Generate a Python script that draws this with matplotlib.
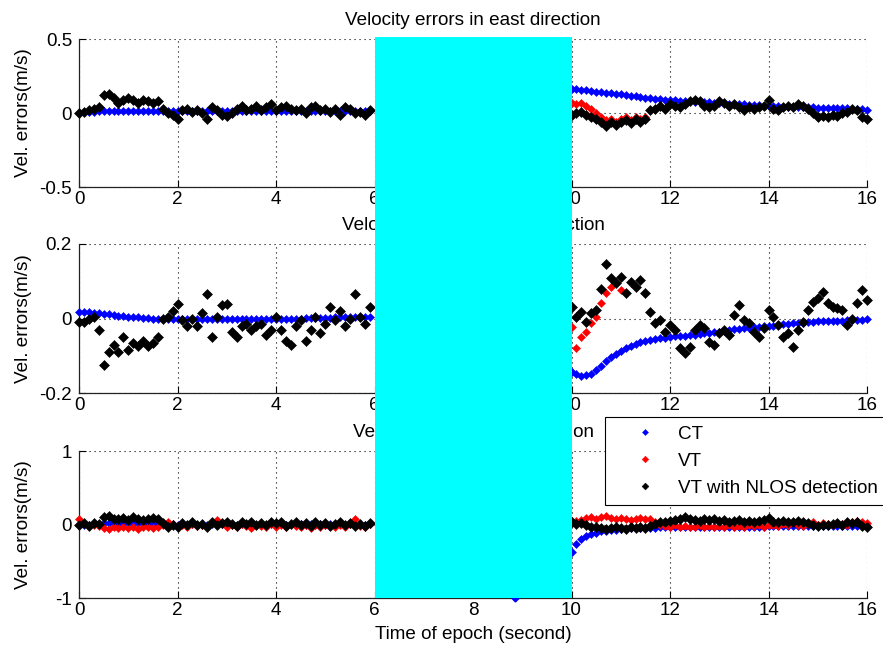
import numpy as np
import matplotlib
matplotlib.use("Agg")
import matplotlib.pyplot as plt
from matplotlib.patches import Rectangle
from matplotlib.transforms import blended_transform_factory

plt.rcParams["font.family"] = ["Liberation Sans", "DejaVu Sans"]
plt.rcParams["font.size"] = 13.6
plt.rcParams["axes.unicode_minus"] = False

# ============================================
# DATA (0.1 s steps)
# ============================================

t_left = np.round(np.arange(0.0, 6.0, 0.1), 1)      # 0.0 .. 5.9
t_right = np.round(np.arange(10.0, 16.05, 0.1), 1)  # 10.0 .. 16.0

# --- east ---
ct_e_left = [0.000, 0.004, 0.007, 0.009, 0.011, 0.013,
             0.014, 0.015, 0.015, 0.016, 0.016, 0.016,
             0.016, 0.016, 0.016, 0.016, 0.016, 0.016,
             0.016, 0.016, 0.016, 0.016, 0.016, 0.016,
             0.017, 0.017, 0.017, 0.017, 0.017, 0.017,
             0.017, 0.017, 0.017, 0.017, 0.017, 0.017,
             0.017, 0.017, 0.017, 0.017, 0.017, 0.017,
             0.017, 0.017, 0.017, 0.017, 0.017, 0.017,
             0.017, 0.017, 0.017, 0.017, 0.017, 0.017,
             0.017, 0.017, 0.017, 0.017, 0.017, 0.017]
nlos_e_left = [0.00, 0.01, 0.02, 0.03, 0.04, 0.12,
               0.13, 0.10, 0.07, 0.09, 0.10, 0.09,
               0.07, 0.09, 0.08, 0.07, 0.08, 0.03,
               0.00, -0.01, -0.04, 0.02, 0.03, 0.01,
               0.02, 0.00, -0.04, 0.04, 0.02, -0.01,
               -0.02, 0.00, 0.03, 0.05, 0.02, 0.03,
               0.05, 0.02, 0.04, 0.06, 0.02, 0.04,
               0.05, 0.03, 0.02, 0.03, 0.00, 0.04,
               0.05, 0.02, 0.03, 0.01, 0.03, -0.01,
               0.04, 0.03, 0.00, 0.01, -0.01, 0.02]
vt_e_left = list(nlos_e_left)  # VT sits under the NLOS points here
ct_e_right = [0.165, 0.161, 0.157, 0.153, 0.149, 0.145, 0.141, 0.137, 0.134, 0.130,
              0.126, 0.122, 0.117, 0.112, 0.108, 0.104, 0.100, 0.097, 0.094, 0.091,
              0.088, 0.086, 0.084, 0.082, 0.080, 0.078, 0.076, 0.074, 0.072, 0.070,
              0.068, 0.066, 0.064, 0.062, 0.060, 0.058, 0.056, 0.054, 0.052, 0.050,
              0.049, 0.046, 0.045, 0.044, 0.043, 0.042, 0.041, 0.040, 0.039, 0.038,
              0.037, 0.036, 0.035, 0.034, 0.033, 0.032, 0.031, 0.030, 0.028, 0.025,
              0.020]
nlos_e_right = [-0.01, 0.00, 0.01, -0.01, -0.03, -0.04, -0.06, -0.09, -0.06, -0.08,
                -0.06, -0.05, -0.07, -0.04, -0.06, -0.04, 0.02, 0.03, 0.05, 0.03,
                0.06, 0.05, 0.04, 0.06, 0.08, 0.09, 0.08, 0.05, 0.04, 0.05,
                0.08, 0.07, 0.05, 0.06, 0.04, 0.02, 0.04, 0.03, 0.04, 0.05,
                0.09, 0.03, 0.02, 0.04, 0.05, 0.04, 0.06, 0.05, 0.03, 0.00,
                -0.03, -0.02, -0.03, -0.01, -0.02, 0.00, 0.01, 0.03, 0.02, -0.03,
                -0.04]
vt_e_right = [0.07, 0.06, 0.07, 0.05, 0.03, 0.00, -0.03, -0.05, -0.04, -0.06,
              -0.04, -0.03, -0.05, -0.03, -0.04, -0.03, 0.02, 0.03, 0.05, 0.03,
              0.06, 0.05, 0.04, 0.06, 0.08, 0.09, 0.08, 0.05, 0.04, 0.05,
              0.08, 0.07, 0.05, 0.06, 0.04, 0.02, 0.04, 0.03, 0.04, 0.05,
              0.09, 0.03, 0.02, 0.04, 0.05, 0.04, 0.06, 0.05, 0.03, 0.00,
              -0.03, -0.02, -0.03, -0.01, -0.02, 0.00, 0.01, 0.03, 0.02, -0.03,
              -0.04]

# --- north ---
ct_n_left = [0.018, 0.018, 0.017, 0.016, 0.015, 0.013,
             0.011, 0.009, 0.007, 0.006, 0.005, 0.004,
             0.003, 0.002, 0.001, 0.000, -0.001, -0.002,
             -0.002, -0.002, -0.002, -0.002, -0.002, -0.002,
             -0.002, -0.002, -0.002, -0.002, -0.002, -0.002,
             -0.002, -0.002, -0.002, -0.002, -0.002, -0.002,
             -0.002, -0.002, -0.002, -0.002, -0.001, -0.001,
             -0.001, 0.000, 0.000, 0.000, 0.001, 0.001,
             0.001, 0.002, 0.002, 0.002, 0.003, 0.003,
             0.003, 0.004, 0.004, 0.004, 0.005, 0.005]
nlos_n_left = [-0.010, -0.010, 0.000, 0.005, -0.030, -0.125,
               -0.090, -0.070, -0.090, -0.050, -0.085, -0.065,
               -0.075, -0.060, -0.075, -0.065, -0.050, 0.000,
               0.005, 0.020, 0.040, -0.005, -0.020, 0.000,
               -0.020, 0.015, 0.065, -0.050, 0.005, 0.035,
               0.040, -0.035, -0.050, -0.020, -0.015, -0.030,
               -0.020, -0.015, -0.045, -0.030, 0.005, -0.030,
               -0.060, -0.070, -0.020, -0.005, -0.060, -0.030,
               0.005, -0.040, -0.015, 0.030, -0.005, 0.020,
               -0.020, 0.000, 0.065, 0.005, -0.015, 0.030]
vt_n_left = list(nlos_n_left)
ct_n_right = [-0.143, -0.150, -0.155, -0.153, -0.148, -0.138, -0.127, -0.115, -0.104, -0.094,
              -0.086, -0.079, -0.073, -0.068, -0.064, -0.061, -0.058, -0.055, -0.053, -0.051,
              -0.049, -0.048, -0.047, -0.046, -0.045, -0.044, -0.042, -0.040, -0.038, -0.037,
              -0.035, -0.033, -0.031, -0.029, -0.028, -0.026, -0.025, -0.024, -0.022, -0.021,
              -0.020, -0.019, -0.017, -0.016, -0.014, -0.013, -0.012, -0.011, -0.010, -0.009,
              -0.008, -0.008, -0.007, -0.007, -0.006, -0.006, -0.005, -0.004, -0.003, -0.003,
              -0.002]
nlos_n_right = [0.032, 0.005, 0.018, -0.009, 0.014, 0.023, 0.080, 0.145, 0.110, 0.094,
                0.112, 0.068, 0.099, 0.085, 0.103, 0.068, 0.018, -0.013, -0.004, -0.035,
                -0.017, -0.031, -0.080, -0.093, -0.076, -0.031, -0.017, -0.026, -0.062, -0.071,
                -0.040, -0.031, -0.044, 0.009, 0.036, -0.004, -0.013, -0.035, -0.049, -0.026,
                0.023, 0.005, -0.017, -0.049, -0.040, -0.076, -0.031, -0.009, 0.023, 0.045,
                0.054, 0.072, 0.041, 0.032, 0.027, 0.023, -0.017, 0.000, 0.041, 0.077,
                0.050]
vt_n_right = [-0.022, -0.080, -0.049, -0.035, -0.013, 0.005, 0.041, 0.068, 0.085, 0.099,
              0.076, 0.068, 0.099, 0.085, 0.103, 0.068, 0.018, -0.013, -0.004, -0.035,
              -0.017, -0.031, -0.080, -0.093, -0.076, -0.031, -0.017, -0.026, -0.062, -0.071,
              -0.040, -0.031, -0.044, 0.009, 0.036, -0.004, -0.013, -0.035, -0.049, -0.026,
              0.023, 0.005, -0.017, -0.049, -0.040, -0.076, -0.031, -0.009, 0.023, 0.045,
              0.054, 0.072, 0.041, 0.032, 0.027, 0.023, -0.017, 0.000, 0.041, 0.077,
              0.050]

# --- up ---
ct_u_left = [0.00, 0.00, 0.00, 0.01, 0.01, 0.02,
             0.02, 0.02, 0.02, 0.02, 0.02, 0.02,
             0.02, 0.02, 0.02, 0.02, 0.01, 0.01,
             0.00, 0.01, 0.00, 0.01, 0.00, 0.01,
             0.00, 0.01, 0.00, 0.01, 0.00, 0.01,
             0.00, 0.01, 0.00, 0.01, 0.00, 0.01,
             0.00, 0.01, 0.00, 0.01, 0.00, 0.01,
             0.00, 0.01, 0.00, 0.01, 0.00, 0.01,
             0.00, 0.01, 0.00, 0.01, 0.00, 0.01,
             0.00, 0.01, 0.00, 0.01, 0.00, 0.01]
nlos_u_left = [0.00, 0.02, -0.02, 0.02, 0.01, 0.10,
               0.12, 0.08, 0.07, 0.09, 0.06, 0.10,
               0.08, 0.06, 0.08, 0.09, 0.07, 0.02,
               -0.03, 0.00, -0.04, 0.02, 0.00, 0.03,
               -0.01, 0.01, -0.04, 0.03, 0.00, 0.02,
               0.04, 0.01, -0.02, 0.03, 0.01, 0.04,
               0.00, 0.02, -0.01, 0.04, 0.02, 0.03,
               -0.02, 0.01, 0.03, 0.00, 0.02, -0.02,
               0.03, 0.00, 0.02, -0.02, 0.01, 0.03,
               -0.01, 0.02, -0.02, 0.01, -0.02, 0.02]
vt_u_left = [0.07, 0.02, -0.02, 0.00, -0.02, -0.05,
             -0.06, -0.04, -0.05, -0.03, -0.05, -0.04,
             -0.06, -0.04, -0.03, -0.05, -0.04, 0.00,
             0.04, 0.01, -0.02, 0.00, -0.03, 0.01,
             -0.02, 0.00, -0.03, 0.02, 0.06, 0.01,
             -0.03, 0.00, -0.04, 0.01, -0.02, -0.05,
             0.00, -0.02, -0.04, 0.01, -0.03, 0.00,
             -0.04, 0.01, -0.02, -0.03, 0.00, -0.05,
             -0.01, -0.03, 0.00, -0.02, -0.04, 0.00,
             -0.03, 0.01, 0.07, -0.02, -0.04, 0.01]
ct_u_right = [-0.38, -0.27, -0.20, -0.16, -0.13, -0.11, -0.095, -0.085, -0.075, -0.068,
              -0.062, -0.058, -0.054, -0.051, -0.048, -0.046, -0.044, -0.042, -0.040, -0.039,
              -0.038, -0.037, -0.036, -0.036, -0.035, -0.035, -0.034, -0.034, -0.033, -0.033,
              -0.032, -0.032, -0.031, -0.031, -0.030, -0.030, -0.029, -0.029, -0.028, -0.028,
              -0.027, -0.027, -0.026, -0.026, -0.025, -0.025, -0.024, -0.024, -0.023, -0.023,
              -0.022, -0.022, -0.021, -0.021, -0.020, -0.020, -0.019, -0.019, -0.018, -0.018,
              -0.017]
nlos_u_right = [0.03, 0.01, 0.02, -0.01, -0.03, -0.04, -0.05, -0.06, -0.05, -0.04,
                -0.05, -0.06, -0.04, -0.05, -0.04, -0.05, -0.02, 0.01, 0.03, 0.04,
                0.05, 0.06, 0.08, 0.10, 0.08, 0.06, 0.05, 0.07, 0.06, 0.08,
                0.05, 0.06, 0.03, 0.05, 0.06, 0.04, 0.05, 0.03, 0.05, 0.06,
                0.09, 0.04, 0.03, 0.05, 0.04, 0.03, 0.05, 0.04, 0.02, 0.00,
                -0.02, 0.00, -0.01, 0.01, 0.02, 0.00, 0.03, 0.02, 0.03, -0.02,
                -0.04]
vt_u_right = [0.02, 0.05, 0.06, 0.09, 0.10, 0.08, 0.10, 0.12, 0.09, 0.07,
              0.09, 0.07, 0.06, 0.08, 0.09, 0.07, 0.08, 0.04, 0.00, -0.02,
              -0.03, -0.01, -0.04, -0.02, -0.03, -0.04, -0.01, -0.03, -0.02, -0.04,
              -0.02, -0.03, -0.01, -0.03, -0.02, -0.04, -0.01, -0.02, 0.00, -0.03,
              -0.01, 0.00, -0.02, 0.01, -0.01, 0.02, 0.00, -0.02, 0.01, 0.03,
              0.00, 0.02, 0.01, 0.00, 0.02, 0.01, 0.00, 0.03, 0.05, 0.04,
              0.02]
# lone CT sample poking out under the masked span
ct_u_gap_t = [8.85]
ct_u_gap = [-1.0]

titles = ["Velocity errors in east direction",
          "Velocity errors in north direction",
          "Velocity errors in up direction"]
y_limits = [(-0.5, 0.5), (-0.2, 0.2), (-1, 1)]
y_ticks = [[-0.5, 0, 0.5], [-0.2, 0, 0.2], [-1, 0, 1]]
x_ticks = list(range(0, 17, 2))
series_names = ["CT", "VT", "VT with NLOS detection"]
series_colors = ["blue", "red", "black"]
marker_sizes = [4.0, 4.4, 4.6]

# ============================================
# FIGURE
# ============================================

fig = plt.figure(figsize=(8.83, 6.51), dpi=100)
positions = [[0.0895, 0.7127, 0.8924, 0.2273],
             [0.0895, 0.3963, 0.8924, 0.2289],
             [0.0895, 0.0814, 0.8924, 0.2258]]

panels = [
    (ct_e_left, ct_e_right, vt_e_left, vt_e_right, nlos_e_left, nlos_e_right),
    (ct_n_left, ct_n_right, vt_n_left, vt_n_right, nlos_n_left, nlos_n_right),
    (ct_u_left, ct_u_right, vt_u_left, vt_u_right, nlos_u_left, nlos_u_right),
]

axes = []
for i, pos in enumerate(positions):
    ax = fig.add_axes(pos)
    data = panels[i]
    for k in range(3):
        left_vals, right_vals = data[2 * k], data[2 * k + 1]
        style = dict(ls="none", marker="D", ms=marker_sizes[k], color=series_colors[k],
                     mec=series_colors[k], mew=0.4, clip_on=False, zorder=3 + k)
        ax.plot(t_left, left_vals, label=series_names[k], **style)
        ax.plot(t_right, right_vals, label="_nolegend_", **style)
    if i == 2:
        ax.plot(ct_u_gap_t, ct_u_gap, ls="none", marker="D", ms=3.5,
                color="blue", clip_on=False, zorder=3)

    ax.set_xlim(0, 16)
    ax.set_ylim(*y_limits[i])
    ax.set_xticks(x_ticks)
    ax.set_xticklabels([f"{v:g}" for v in x_ticks])
    ax.set_yticks(y_ticks[i])
    ax.set_yticklabels([f"{v:g}" for v in y_ticks[i]])
    ax.set_axisbelow(True)
    ax.grid(True, color="black", linestyle=(0, (1, 3.5)), linewidth=0.8)
    ax.spines["top"].set_visible(False)
    ax.spines["right"].set_visible(False)
    for side in ["left", "bottom"]:
        ax.spines[side].set_linewidth(0.9)
        ax.spines[side].set_color("#222222")
    ax.tick_params(direction="in", length=5, width=0.8, top=False, right=False)
    ax.tick_params(axis="x", pad=3)
    ax.tick_params(axis="y", pad=5)
    ax.set_title(titles[i], pad=10, fontsize=13.6)
    ax.set_ylabel("Vel. errors(m/s)")
    ax.yaxis.set_label_coords(-0.06, 0.5)
    axes.append(ax)

axes[2].set_xlabel("Time of epoch (second)", labelpad=5)

leg = axes[2].legend(loc="upper left", bbox_to_anchor=(605 / 883, 1 - 417 / 651),
                     bbox_transform=fig.transFigure, borderaxespad=0,
                     fancybox=False, framealpha=1, edgecolor="black",
                     borderpad=0.45, labelspacing=0.52, handlelength=3.3,
                     handletextpad=0.1, markerscale=0.75, numpoints=1)
leg.get_frame().set_linewidth(0.8)
leg.set_zorder(20)

# cyan mask over 6-10 s across all three panels
y_bot = axes[2].get_position().y0
y_top = axes[0].get_position().y1 + 0.003
mask_tr = blended_transform_factory(axes[2].transData, fig.transFigure)
fig.add_artist(Rectangle((6, y_bot), 4, y_top - y_bot, transform=mask_tr,
                         facecolor="#00FFFF", edgecolor="none", zorder=10))

fig.savefig("out.png", dpi=100)
